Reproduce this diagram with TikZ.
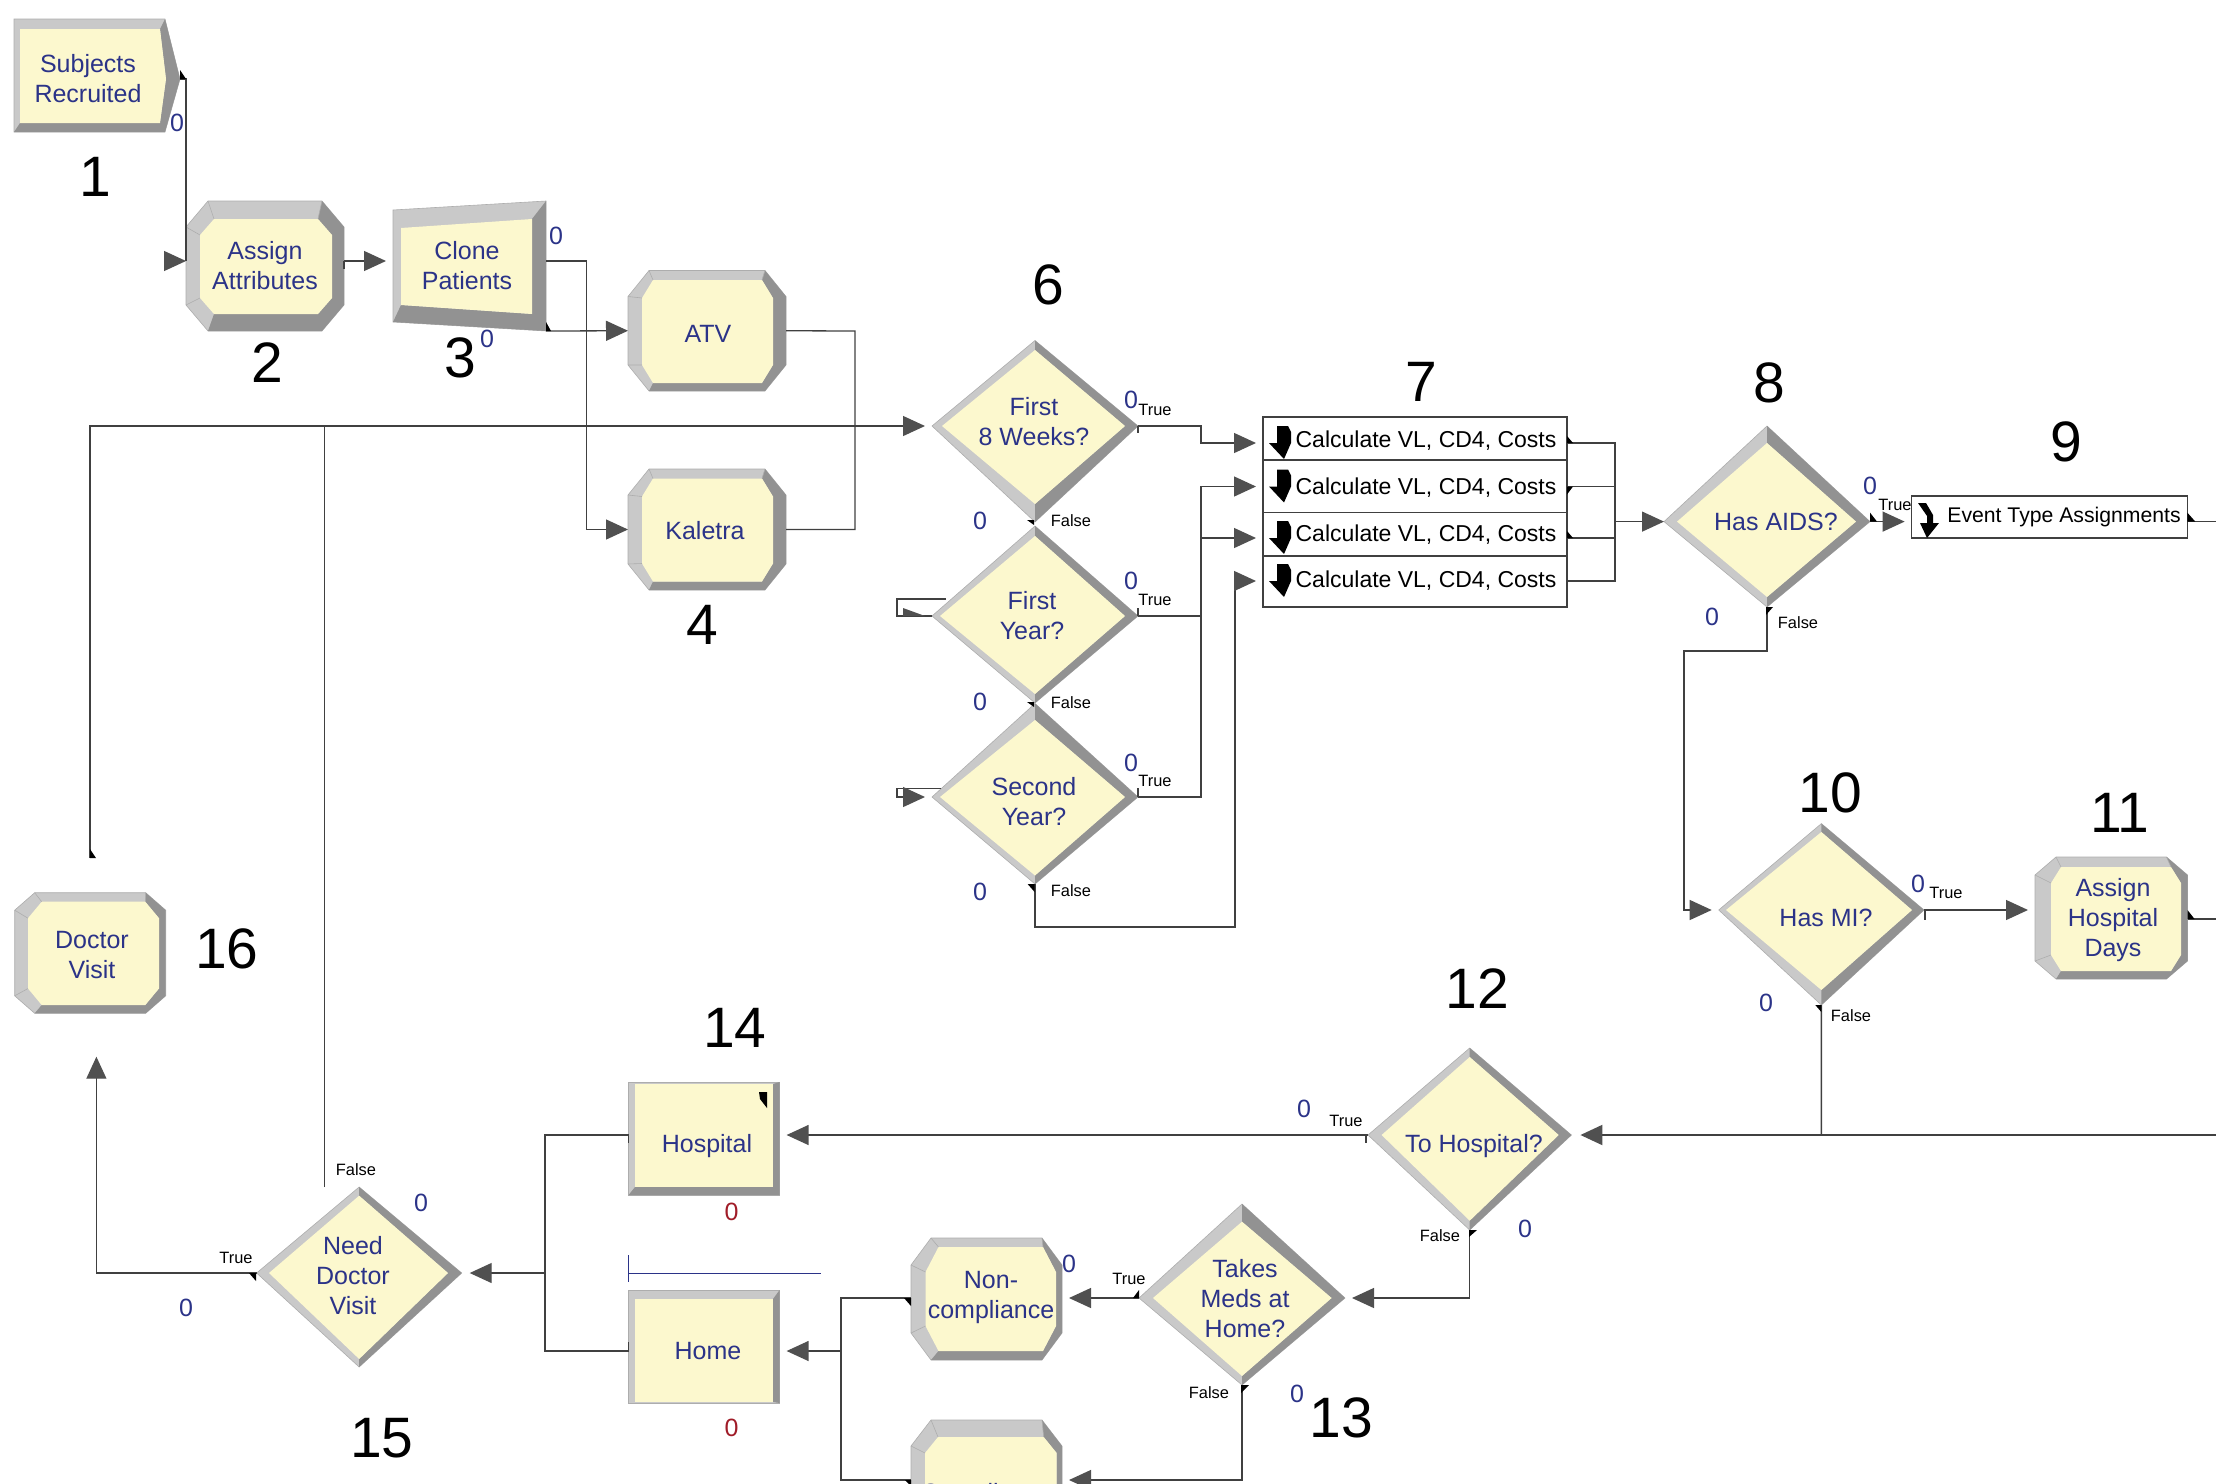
\documentclass[tikz,border=0pt]{standalone}
\usepackage{fontspec}
\setmainfont{Liberation Sans}
\usetikzlibrary{arrows.meta,fit}
\definecolor{cream}{HTML}{FCF8CE}
\definecolor{bevlight}{HTML}{C9C9C9}
\definecolor{bevdark}{HTML}{929292}
\definecolor{bevseam}{HTML}{ADADAD}
\definecolor{arenablue}{HTML}{2B3388}
\definecolor{arenared}{HTML}{A01C28}
\definecolor{tipgray}{HTML}{505050}
\definecolor{linegray}{HTML}{404040}
\newcommand{\bevel}[3]{
  \fill[bevlight,draw=bevseam,line width=.3pt] #1 -- cycle;
  \fill[bevdark] #2 -- cycle;
  \fill[cream] #3 -- cycle;
}
\newcommand{\decision}[3]{
  \foreach \xl/\xr/\yt/\yb/\ym in {#2}{\foreach \ixl/\ixr/\iyt/\iyb in {#3}{
    \pgfmathsetmacro\xm{(\xl+\xr)/2}
    \pgfmathsetmacro\yu{2*\ym-\yb}
    \bevel{(\xl,\ym) -- (\xm,\yt) -- (\xr,\ym) -- (\xm,\yb)}
      {(\xm,\yt) -- (\xr,\ym) -- (\xm,\yb) -- (\xm,\iyb) -- (\ixr,\ym) -- (\xm,\iyt)}
      {(\ixl,\ym) -- (\xm,\iyt) -- (\ixr,\ym) -- (\xm,\iyb)}
    \node[port,fit={(\xl,\yu)(\xr,\yb)}] (#1) {};
  }}
}
\newcommand{\process}[4]{
  \foreach \xl/\xr/\yt/\yb in {#2}{\foreach \ixl/\ixr/\iyt/\iyb in {#3}{\foreach \cdx/\cdy/\idx/\idy in {#4}{
    \bevel{(\xl+\cdx,\yt) -- (\xr-\cdx,\yt) -- (\xr,\yt+\cdy) -- (\xr,\yb-\cdy) -- (\xr-\cdx,\yb)
        -- (\xl+\cdx,\yb) -- (\xl,\yb-\cdy) -- (\xl,\yt+\cdy)}
      {(\xr-\cdx,\yt) -- (\xr,\yt+\cdy) -- (\xr,\yb-\cdy) -- (\xr-\cdx,\yb) -- (\xl+\cdx,\yb)
        -- (\ixl+\idx,\iyb) -- (\ixr-\idx,\iyb) -- (\ixr,\iyb-\idy) -- (\ixr,\iyt+\idy) -- (\ixr-\idx,\iyt)}
      {(\ixl+\idx,\iyt) -- (\ixr-\idx,\iyt) -- (\ixr,\iyt+\idy) -- (\ixr,\iyb-\idy) -- (\ixr-\idx,\iyb)
        -- (\ixl+\idx,\iyb) -- (\ixl,\iyb-\idy) -- (\ixl,\iyt+\idy)}
    \draw[bevseam,line width=.3pt] (\xl+\cdx,\yt) -- (\ixl+\idx,\iyt) (\xl,\yt+\cdy) -- (\ixl,\iyt+\idy)
      (\xl,\yb-\cdy) -- (\ixl,\iyb-\idy) (\xr-\cdx,\yt) -- (\ixr-\idx,\iyt);
    \node[port,fit={(\xl,\yt)(\xr,\yb)}] (#1) {};
  }}}
}
\begin{document}
\begin{tikzpicture}[x=.5pt,y=-.5pt,
    port/.style={inner sep=0pt,outer sep=0pt},
    blocktext/.style={inner sep=0pt,align=center,text=arenablue,
      font=\fontsize{12.5}{15}\selectfont},
    calctext/.style={inner sep=0pt,font=\fontsize{11.5}{14}\selectfont},
    bignum/.style={inner sep=0pt,font=\fontsize{28.5}{30}\selectfont},
    zerotext/.style={inner sep=0pt,text=arenablue,font=\fontsize{12.5}{14}\selectfont},
    queuetext/.style={zerotext,text=arenared},
    branch/.style={inner sep=0pt,font=\fontsize{8.2}{10}\selectfont},
    calcbox/.style={port,draw=linegray,line width=.6pt},
    link/.style={draw=linegray,line width=.65pt},
    flow/.style={link,-{Triangle[length=11pt,width=10pt,color=tipgray]}},
    gap/.style={shorten >=3.5pt}]
  \useasboundingbox (0,0) rectangle (2216,1483);
  \clip (0,0) rectangle (2216,1483);

  \bevel{(14,19) -- (165,19) -- (180,79) -- (165,132) -- (14,132)}
    {(165,19) -- (180,79) -- (165,132) -- (14,132) -- (20,123) -- (160,123) -- (166,79) -- (160,29)}
    {(20,29) -- (160,29) -- (166,79) -- (160,123) -- (20,123)}
  \node[port,fit={(14,19)(180,132)}] (subjects) {};
  \process{assign}{186/344/201/331}{200/332/219/314}{22/26/14/16}
  \bevel{(393,210) -- (546,201) -- (546,331) -- (393,322)}
    {(546,201) -- (546,331) -- (393,322) -- (401,305) -- (532,314) -- (532,219)}
    {(401,228) -- (532,219) -- (532,314) -- (401,305)}
  \node[port,fit={(393,201)(546,331)}] (clone) {};
  \process{atv}{628/786/270.5/391}{642/773/280/383}{21/26/11/18}
  \process{kaletra}{628/786/469/590}{642/773/478.5/581.5}{21/26/11/18}
  \decision{firstweeks}{932/1138/340.5/522/426}{942/1125/350/504}
  \decision{firstyear}{932/1138/526/703/616}{940/1125/536/694}
  \decision{secondyear}{932/1138/703.5/884/797}{940/1125/720/875.5}
  \decision{hasaids}{1664/1870/426/607/521.6}{1677/1856/443/597}
  \decision{hasmi}{1718.7/1924/823.6/1005/910}{1726/1912/832/990}
  \decision{tohosp}{1368/1571.4/1048/1230/1135}{1381.6/1558.7/1057/1220.7}
  \decision{takes}{1139/1345/1204/1385/1298}{1153/1331.6/1221.7/1376}
  \decision{needdoc}{256.6/461.7/1187/1367/1273}{269/448/1195.7/1359}
  \process{hospdays}{2035/2187.5/857/979}{2051/2181/867/971}{21/18/10/16}
  \process{noncomp}{911/1062/1238/1360}{925.5/1056/1247/1351}{20/27/13/25}
  \process{compliance}{911/1062/1420/1560}{925/1056.7/1437/1540}{20/26/13/16}
  \process{doctor}{14.7/165.7/892.7/1013.3}{28/159/901.7/1005}{20/17.5/13.7/16.5}
  \bevel{(628.6,1082) -- (779.6,1082) -- (779.6,1195) -- (628.6,1195)}
    {(779.6,1082) -- (779.6,1195) -- (628.6,1195) -- (635,1187) -- (773,1187) -- (773,1084)}
    {(635,1084) -- (773,1084) -- (773,1187) -- (635,1187)}
  \node[port,fit={(628.6,1082)(779.6,1195)}] (hospital) {};
  \bevel{(628.6,1290) -- (779.6,1290) -- (779.6,1403) -- (628.6,1403)}
    {(773,1299) -- (779.6,1290) -- (779.6,1403) -- (773,1402)}
    {(635,1299) -- (773,1299) -- (773,1402) -- (635,1402)}
  \node[port,fit={(628.6,1290)(779.6,1403)}] (home) {};
  \fill (759,1092) -- (767,1092) -- (767,1108) -- (760,1099) -- cycle;

  \node[calcbox,fit={(1263,417)(1567,460)}] (calc1) {};
  \node[calcbox,fit={(1263,460)(1567,512.6)}] (calc2) {};
  \node[calcbox,fit={(1263,512.6)(1567,556)}] (calc3) {};
  \node[calcbox,fit={(1263,556)(1567,607)}] (calc4) {};
  \node[calcbox,fit={(1911.6,496)(2187.3,538)}] (event) {};
  \foreach \y in {426,469.5,521,564}
    \fill[shift={(0,\y)}] (1277,0) -- (1288,0) -- (1291,6) -- (1291,17) -- (1284,33)
      -- (1269,17) -- (1277,17) -- cycle;
  \fill (1918,503) -- (1926,503) -- (1933,515) -- (1933,523) -- (1939,523) -- (1927,538)
    -- (1920,523) -- (1927,523) -- (1927,516) -- cycle;

  \node[blocktext] (subjectstext) at (88,78.5) {Subjects\\Recruited};
  \node[blocktext] (assigntext) at (265,265.5) {Assign\\Attributes};
  \node[blocktext] (clonetext) at (467,265.5) {Clone\\Patients};
  \node[blocktext] (atvtext) at (708,334) {ATV};
  \node[blocktext] (kaletratext) at (705,531) {Kaletra};
  \node[blocktext] (firstweekstext) at (1034,421.5) {First\\8 Weeks?};
  \node[blocktext] (firstyeartext) at (1032,616) {First\\Year?};
  \node[blocktext] (secondyeartext) at (1034,802) {Second\\Year?};
  \node[blocktext] (hasaidstext) at (1776,522) {Has AIDS?};
  \node[blocktext] (hasmitext) at (1826,918) {Has MI?};
  \node[blocktext] (hospdaystext) at (2113,920) {Assign\\Hospital\\Days};
  \node[blocktext] (tohosptext) at (1474,1146) {To Hospital?};
  \node[blocktext] (takestext) at (1245,1299) {Takes\\Meds at\\Home?};
  \node[blocktext] (noncomptext) at (991,1297) {Non-\\compliance};
  \node[blocktext] (compliancetext) at (987,1495) {Compliance};
  \node[blocktext] (hospitaltext) at (707,1146) {Hospital};
  \node[blocktext] (hometext) at (708,1351) {Home};
  \node[blocktext] (needdoctext) at (353,1275.5) {Need\\Doctor\\Visit};
  \node[blocktext] (doctortext) at (92,955) {Doctor\\Visit};
  \foreach \i/\y in {1/441,2/488,3/535,4/581}
    \node[calctext] (calctext\i) at (1426,\y) {Calculate VL, CD4, Costs};
  \node[calctext,font=\fontsize{10.6}{13}\selectfont] (eventtext) at (2064,517) {Event Type Assignments};

  \foreach \n/\x/\y in {1/95/177,2/267/363,3/460/358,4/702/625,6/1048/285,7/1421/382,8/1769/383,
      9/2066/442,10/1830/793,11/2120/813,12/1477/989,13/1341/1418,14/735/1028,15/382/1438,16/227/949}
    \node[bignum] (num\n) at (\x,\y) {\n};
  \foreach \x/\y [count=\i] in {177/123,556/236,487/339,1131/400,980/521,1131/581,980/702,1131/763,
      980/892,1870/486,1712/617,1918/884,1766/1003,1304/1109,1525/1229,1069/1264,1297/1394,421/1203,186/1308}
    \node[zerotext] (count\i) at (\x,\y) {0};
  \node[queuetext] (queuehospital) at (731.6,1212) {0};
  \node[queuetext] (queuehome) at (731.6,1428) {0};
  \foreach \x/\y [count=\i] in {1155/410,1155/600,1155/781,1895/505,1946/893,1346/1121,1129/1279,236/1258}
    \node[branch] (true\i) at (\x,\y) {True};
  \foreach \x/\y [count=\i] in {1071/521,1071/703,1071/891,1798/623,1851/1016,1440/1236,1209/1393,356/1170}
    \node[branch] (false\i) at (\x,\y) {False};

  \coordinate (subjectsout) at (180,79);
  \coordinate (assignin) at (186,261);
  \coordinate (assignout) at (344,261);
  \coordinate (clonein) at (393,261);
  \coordinate (cloneout) at (546,261);
  \coordinate (cloneturn) at (586.5,261);
  \coordinate (clonelow) at (546,331);
  \coordinate (atvturn) at (855,331);
  \coordinate (doctorout) at (90,858);
  \coordinate (needfalse) at (324.5,1187);
  \coordinate (needtop) at (324.5,426);
  \coordinate (weeksturn) at (1201,426);
  \coordinate (firstturn) at (1201,616);
  \coordinate (secondturn) at (1201,797);
  \coordinate (lowturn) at (1235,927);
  \coordinate (firstloop) at (946,599);
  \coordinate (firstside) at (897,599);
  \coordinate (secondloop) at (941,788.6);
  \coordinate (secondside) at (897,788.6);
  \foreach \i/\y in {1/443,2/486.5,3/538,4/581}{
    \coordinate (calcin\i) at (1263,\y);
    \coordinate (calcout\i) at (1567,\y);
    \coordinate (merge\i) at (1615,\y);
  }
  \coordinate (mergemid) at (1615,521.6);
  \coordinate (eventin) at (1911.6,521.6);
  \coordinate (eventout) at (2187.3,521.6);
  \coordinate (edgeevent) at (2216,521.6);
  \coordinate (aidsturn) at (1684,651);
  \coordinate (hospdaysin) at (2035,910);
  \coordinate (hospdaysout) at (2187.5,919);
  \coordinate (edgedays) at (2216,919);
  \coordinate (edgemain) at (2216,1135);
  \coordinate (mijoin) at (1821.35,1135);
  \coordinate (hospitalin) at (779.6,1135);
  \coordinate (hospitalout) at (628.6,1135);
  \coordinate (noncompin) at (1062,1298);
  \coordinate (noncompout) at (911,1298);
  \coordinate (compliancein) at (1062,1480);
  \coordinate (complianceout) at (911,1480);
  \coordinate (careturn) at (841,1298);
  \coordinate (carelow) at (841,1480);
  \coordinate (caremid) at (841,1351);
  \coordinate (homein) at (779.6,1351);
  \coordinate (homeout) at (628.6,1351);
  \coordinate (wardturn) at (545,1135);
  \coordinate (wardlow) at (545,1351);
  \coordinate (wardmid) at (545,1273);
  \coordinate (doctorin) at (96.4,1013.3);

  \draw[link] (subjectsout) -| (assignin);
  \draw[flow] ([xshift=-10.5pt]assignin) -- (assignin);
  \draw[flow,gap] (assignout) -- (clonein);
  \draw[flow] (cloneout) -- (cloneturn) |- (kaletra.west);
  \draw[flow] (clonelow) -- (atv.west);
  \draw[link] (atv.east) -- (atvturn) |- (kaletra.east);
  \draw[flow,gap] (doctorout) |- (firstweeks.west);
  \draw[link] (needfalse) -- (needtop);
  \draw[flow,gap] (firstweeks.east) -- (weeksturn) |- (calcin1);
  \draw[flow,gap] (firstyear.east) -- (firstturn) |- (calcin2);
  \draw[flow,gap] (firstturn) |- (calcin3);
  \draw[link] (secondyear.east) -- (secondturn) -- (firstturn);
  \draw[flow,gap] (secondyear.south) |- (lowturn) |- (calcin4);
  \draw[link] (firstloop) -- (firstside) |- (firstyear.west);
  \fill[tipgray] (903,608) -- (925,616) -- (903,616) -- cycle;
  \draw[flow,gap] (secondloop) -- (secondside) |- (secondyear.west);
  \draw[link] (calcout1) -- (merge1) -- (merge4) -- (calcout4);
  \draw[link] (calcout2) -- (merge2);
  \draw[link] (calcout3) -- (merge3);
  \draw[flow] (mergemid) -- (hasaids.west);
  \draw[flow,gap] (hasaids.east) -- (eventin);
  \draw[link] (eventout) -- (edgeevent);
  \draw[flow,gap] (hasaids.south) |- (aidsturn) |- (hasmi.west);
  \draw[flow,gap] (hasmi.east) -- (hospdaysin);
  \draw[link] (hospdaysout) -- (edgedays);
  \draw[link] (hasmi.south) -- (mijoin);
  \draw[flow,shorten >=4.5pt,line width=1pt] (edgemain) -- (tohosp.east);
  \draw[flow,gap] (tohosp.west) -- (hospitalin);
  \draw[flow,gap] (tohosp.south) |- (takes.east);
  \draw[flow,gap] (takes.west) -- (noncompin);
  \draw[flow,gap] (takes.south) |- (compliancein);
  \draw[link] (noncompout) -- (careturn) -- (carelow) -- (complianceout);
  \draw[flow,gap] (caremid) -- (homein);
  \draw[link] (hospitalout) -- (wardturn) -- (wardlow) -- (homeout);
  \draw[flow,shorten >=4pt] (wardmid) -- (needdoc.east);
  \draw[flow,shorten >=21.7pt] (needdoc.west) -| (doctorin);

  \foreach \x/\y/\dx/\dy in {180/79/6/-9,546/331/5/-9,1567/443/6/-7,1567/486.5/6/8,1567/538/6/-7,
      1034/520/-7/5,1034/702/-7/5,1034.6/884/-7/8,1870/521.6/7/-9,2187.3/521.6/8/-9,1766/607/7/8,
      2187.5/919/7/-9,1821.3/1005/-6/7,1139/1298/-6/-8,1241/1385/8/8,1469/1230/8/7,911/1298/-7/8,
      911/1480/-6/6,256/1273/-7/8}
    \fill (\x,\y) -- ++(\dx,0) -- ++(-\dx,\dy) -- cycle;
  \fill (90,849) -- (96,858) -- (90,858) -- cycle;
  \foreach \x/\y/\dy in {1138/426/7,1138/616/-8,1138/797/-9,1925/910/10,344/261/8,628.6/1135/8,
      628.6/1351/-9,1366/1135/8}
    \draw[link] (\x,\y) -- ++(0,\dy);
  \draw[arenablue,line width=.5pt] (628.6,1255) -- (628.6,1281.7) (628.6,1273) -- (821,1273);
\end{tikzpicture}
\end{document}
